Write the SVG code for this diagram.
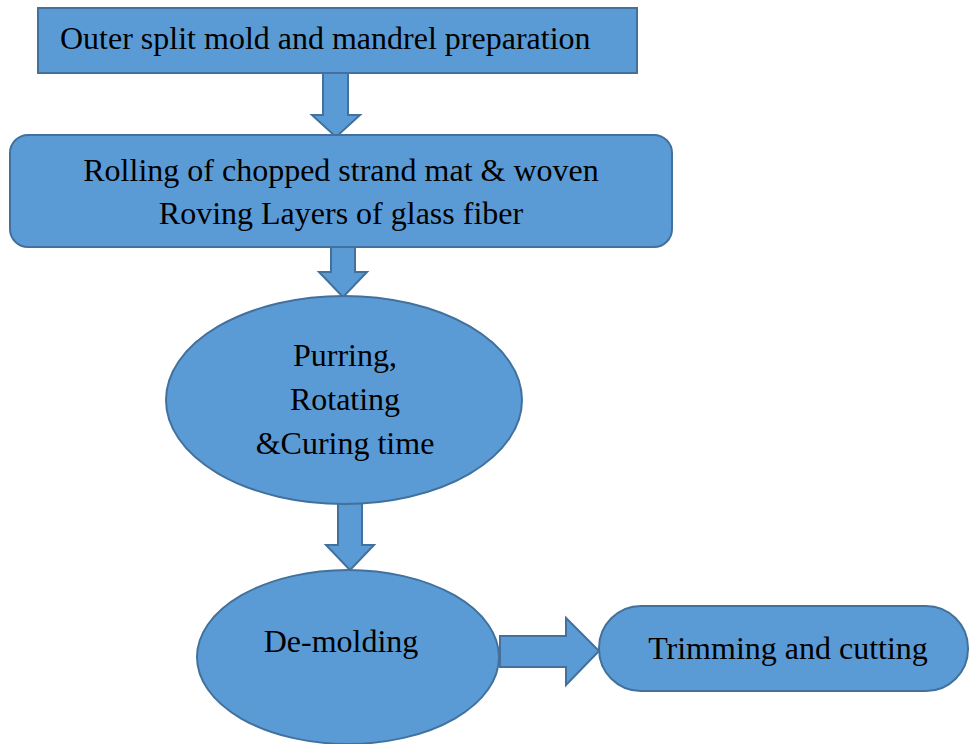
<svg xmlns="http://www.w3.org/2000/svg" width="970" height="744" viewBox="0 0 970 744">
<style>
.s{fill:#5B9BD5;stroke:#41719C;stroke-width:2}
.t{font-family:"Liberation Serif","Times New Roman",serif;font-size:32px;fill:#000}
.c{text-anchor:middle}
</style>
<rect width="970" height="744" fill="#fff"/>
<g id="connectors">
<polygon class="s" points="323,73 348,73 348,115 360,115 336,137 312,115 323,115"/>
<polygon class="s" points="331,247 355,247 355,272 367,272 343,297 319,272 331,272"/>
<polygon class="s" points="338,498 362,498 362,545 374,545 350,570 326,545 338,545"/>
<polygon class="s" points="500,636 566,636 566,618 599,651 566,685 566,667 500,667"/>
</g>
<g id="n1">
<rect class="s" x="38" y="8" width="599" height="65"/>
<text class="t" x="60" y="49">Outer split mold and mandrel preparation</text>
</g>
<g id="n2">
<rect class="s" x="10" y="135" width="662" height="112" rx="18"/>
<text class="t c" x="341" y="181">Rolling of chopped strand mat &amp; woven</text>
<text class="t c" x="341" y="224">Roving Layers of glass fiber</text>
</g>
<g id="n3">
<ellipse class="s" cx="344" cy="400" rx="178" ry="104"/>
<text class="t c" x="345" y="366">Purring,</text>
<text class="t c" x="345" y="410">Rotating</text>
<text class="t c" x="345" y="454">&amp;Curing time</text>
</g>
<g id="n4">
<ellipse class="s" cx="348" cy="657" rx="151" ry="87"/>
<text class="t c" x="341" y="652">De-molding</text>
</g>
<g id="n5">
<rect class="s" x="599" y="606" width="369" height="85" rx="42"/>
<text class="t c" x="788" y="659">Trimming and cutting</text>
</g>
</svg>
